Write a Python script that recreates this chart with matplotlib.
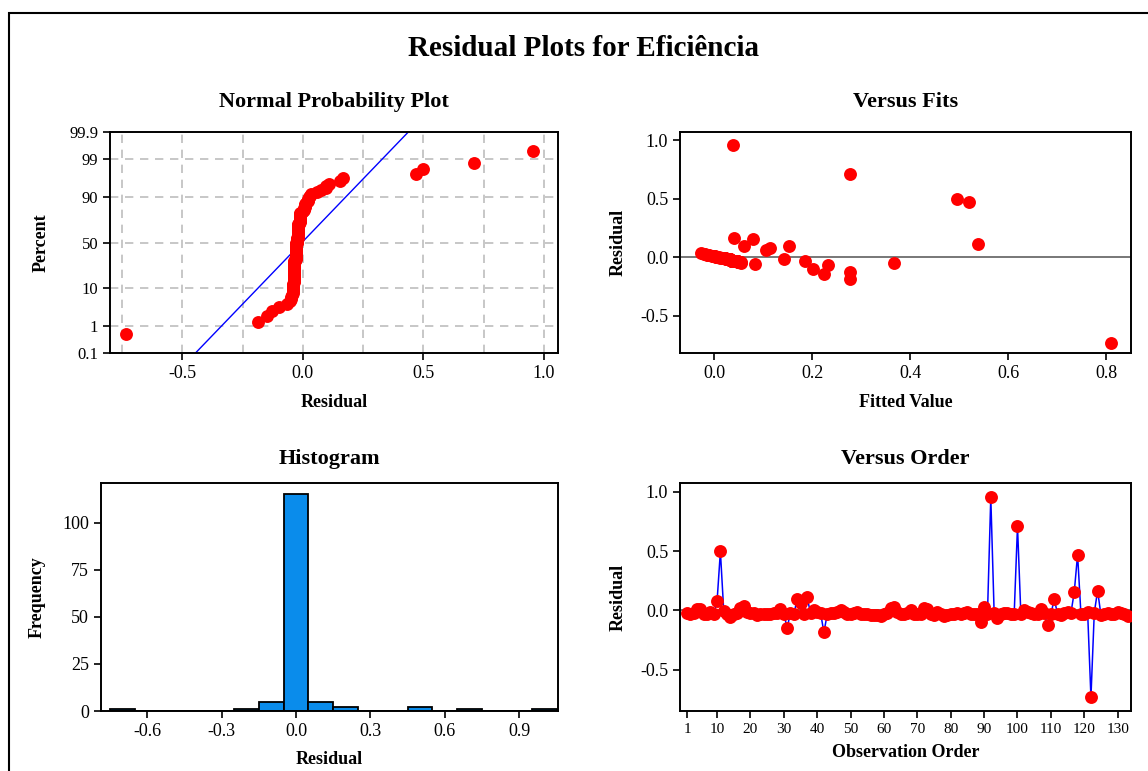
import matplotlib
matplotlib.use("Agg")
import matplotlib.pyplot as plt
import numpy as np
from statistics import NormalDist

# residuals by observation order (1..133)
residuals = [
    -0.020, -0.030, -0.025, 0.010, 0.012, -0.030, -0.035, -0.010, -0.032, 0.075,
    0.497, -0.005, -0.030, -0.055, -0.035, -0.020, 0.020, 0.035, -0.010, -0.025,
    -0.020, -0.040, -0.035, -0.030, -0.035, -0.030, -0.025, -0.020, 0.010, -0.030,
    -0.148, -0.020, -0.035, 0.097, 0.060, -0.030, 0.109, -0.025, 0.005, -0.010,
    -0.020, -0.185, -0.035, -0.020, -0.020, -0.010, 0.005, -0.015, -0.030, -0.035,
    -0.020, -0.010, -0.030, -0.035, -0.030, -0.038, -0.040, -0.042, -0.045, -0.035,
    -0.020, 0.020, 0.030, -0.010, -0.035, -0.030, -0.020, 0.000, -0.030, -0.035,
    -0.030, 0.020, 0.008, -0.035, -0.040, -0.010, -0.030, -0.048, -0.040, -0.035,
    -0.030, -0.020, -0.035, -0.025, -0.010, -0.030, -0.035, -0.030, -0.100, 0.025,
    -0.035, 0.955, -0.020, -0.065, -0.032, -0.020, -0.020, -0.030, -0.035, 0.710,
    -0.030, 0.005, -0.010, -0.020, -0.035, -0.030, 0.010, -0.020, -0.128, -0.035,
    0.095, -0.030, -0.040, -0.020, -0.010, -0.025, 0.155, 0.470, -0.030, -0.035,
    -0.010, -0.735, -0.020, 0.165, -0.040, -0.030, -0.020, -0.035, -0.030, -0.015,
    -0.025, -0.035, -0.049,
]

# fitted values by observation order
fitted = [
    0.028, 0.040, 0.032, -0.002, -0.005, 0.037, 0.044, 0.018, 0.041, 0.113,
    0.495, 0.012, 0.036, 0.083, 0.045, 0.026, -0.012, -0.028, 0.020, 0.034,
    0.030, 0.050, 0.043, 0.039, 0.046, 0.038, 0.033, 0.027, 0.000, 0.040,
    0.223, 0.029, 0.186, 0.152, 0.106, 0.041, 0.538, 0.031, 0.005, 0.017,
    0.030, 0.277, 0.047, 0.142, 0.028, 0.019, 0.003, 0.024, 0.039, 0.044,
    0.031, 0.020, 0.042, 0.045, 0.037, 0.048, 0.049, 0.052, 0.054, 0.046,
    0.027, -0.014, -0.022, 0.021, 0.043, 0.038, 0.029, 0.009, 0.040, 0.045,
    0.037, -0.010, 0.002, 0.046, 0.051, 0.018, 0.036, 0.367, 0.050, 0.044,
    0.041, 0.030, 0.042, 0.035, 0.022, 0.039, 0.047, 0.036, 0.202, -0.018,
    0.045, 0.038, 0.028, 0.232, 0.042, 0.030, 0.026, 0.040, 0.043, 0.277,
    0.039, 0.004, 0.019, 0.028, 0.046, 0.038, -0.001, 0.031, 0.277, 0.045,
    0.061, 0.040, 0.050, 0.029, 0.020, 0.034, 0.078, 0.519, 0.041, 0.044,
    0.021, 0.810, 0.030, 0.040, 0.052, 0.037, 0.027, 0.046, 0.039, 0.024,
    0.033, 0.043, 0.055,
]

pct_ticks = [0.1, 1, 10, 50, 90, 99, 99.9]
pct_labels = ["0.1", "1", "10", "50", "90", "99", "99.9"]
hist_edges = np.arange(-0.75, 1.06, 0.1)
order_ticks = [1, 10, 20, 30, 40, 50, 60, 70, 80, 90, 100, 110, 120, 130]

plt.rcParams['font.family'] = ['Liberation Serif', 'DejaVu Serif']
plt.rcParams['axes.unicode_minus'] = False
RED = '#FF0000'
BLUE = '#0000FF'
HIST = '#0A8CEB'
MS = 9.3

res = np.array(residuals)
fit = np.array(fitted)
n = len(res)
obs = np.arange(1, n + 1)
nd = NormalDist()

fig = plt.figure(figsize=(11.48, 7.71), dpi=100)
fig.patches.append(plt.Rectangle((9 / 1148, -0.1), 1.2, 1.1 - 13.5 / 771,
                                 transform=fig.transFigure, fill=False,
                                 edgecolor='black', linewidth=1.5))
fig.text(0.508, 0.937, 'Residual Plots for Eficiência', ha='center', va='center',
         fontsize=21, fontweight='bold')

ax1 = fig.add_axes([110 / 1148, 418 / 771, 448 / 1148, 221 / 771])
ax2 = fig.add_axes([680 / 1148, 418 / 771, 451 / 1148, 221 / 771])
ax3 = fig.add_axes([101 / 1148, 60 / 771, 457 / 1148, 228 / 771])
ax4 = fig.add_axes([680 / 1148, 60 / 771, 451 / 1148, 228 / 771])

for ax in (ax1, ax2, ax3, ax4):
    for s in ax.spines.values():
        s.set_linewidth(1.4)
    ax.tick_params(direction='out', length=5, width=1.2, labelsize=13,
                   top=False, right=False)

# normal probability plot
srt = np.sort(res)
ranks = (np.arange(1, n + 1) - 0.3) / (n + 0.4)
z = [nd.inv_cdf(p) for p in ranks]
mu, sd = res.mean(), res.std(ddof=1)
zlim = nd.inv_cdf(0.999)
xl = np.array([mu - zlim * sd * 1.05, mu + zlim * sd * 1.05])
ax1.plot(xl, (xl - mu) / sd, color=BLUE, lw=1.0, zorder=2)
ax1.plot(srt, z, 'o', color=RED, ms=MS, mec='none', zorder=3)
ax1.set_ylim(-zlim, zlim)
ax1.set_yticks([nd.inv_cdf(p / 100) for p in pct_ticks])
ax1.set_yticklabels(pct_labels)
ax1.tick_params(axis='y', labelsize=12)
ax1.set_xlim(-0.80, 1.058)
ax1.set_xticks([-0.5, 0.0, 0.5, 1.0])
ax1.set_xticks(np.arange(-0.75, 1.01, 0.25), minor=True)
ax1.tick_params(axis='x', which='minor', length=0)
ax1.grid(True, which='both', color='#BEBEBE', linestyle=(0, (5, 4)), lw=1.2)
ax1.set_axisbelow(True)
ax1.set_title('Normal Probability Plot', fontsize=16, fontweight='bold', pad=18)
ax1.set_xlabel('Residual', fontsize=13, fontweight='bold', labelpad=9)
ax1.set_ylabel('Percent', fontsize=13, fontweight='bold', labelpad=14)

# versus fits
ax2.axhline(0, color='#606060', lw=1.2, zorder=1)
ax2.plot(fit, res, 'o', color=RED, ms=MS, mec='none', zorder=3)
ax2.set_xlim(-0.07, 0.85)
ax2.set_ylim(-0.82, 1.07)
ax2.set_xticks([0.0, 0.2, 0.4, 0.6, 0.8])
ax2.set_yticks([-0.5, 0.0, 0.5, 1.0])
ax2.set_title('Versus Fits', fontsize=16, fontweight='bold', pad=18)
ax2.set_xlabel('Fitted Value', fontsize=13, fontweight='bold', labelpad=9)
ax2.set_ylabel('Residual', fontsize=13, fontweight='bold', labelpad=10)

# histogram
ax3.hist(res, bins=hist_edges, color=HIST, edgecolor='black', linewidth=1.3)
ax3.set_xlim(-0.786, 1.056)
ax3.set_ylim(0, 121)
ax3.set_xticks([-0.6, -0.3, 0.0, 0.3, 0.6, 0.9])
ax3.set_yticks([0, 25, 50, 75, 100])
ax3.set_title('Histogram', fontsize=16, fontweight='bold', pad=14)
ax3.set_xlabel('Residual', fontsize=13, fontweight='bold', labelpad=8)
ax3.set_ylabel('Frequency', fontsize=13, fontweight='bold', labelpad=12)

# versus order
ax4.axhline(0, color='#606060', lw=1.2, zorder=1)
ax4.plot(obs, res, '-', color=BLUE, lw=1.1, zorder=2)
ax4.plot(obs, res, 'o', color=RED, ms=MS, mec='none', zorder=3)
ax4.set_xlim(-1.1, 134)
ax4.set_ylim(-0.85, 1.075)
ax4.set_xticks(order_ticks)
ax4.tick_params(axis='x', labelsize=11)
ax4.set_yticks([-0.5, 0.0, 0.5, 1.0])
ax4.set_title('Versus Order', fontsize=16, fontweight='bold', pad=14)
ax4.set_xlabel('Observation Order', fontsize=13, fontweight='bold', labelpad=6)
ax4.set_ylabel('Residual', fontsize=13, fontweight='bold', labelpad=10)

fig.savefig('out.png', dpi=100)
